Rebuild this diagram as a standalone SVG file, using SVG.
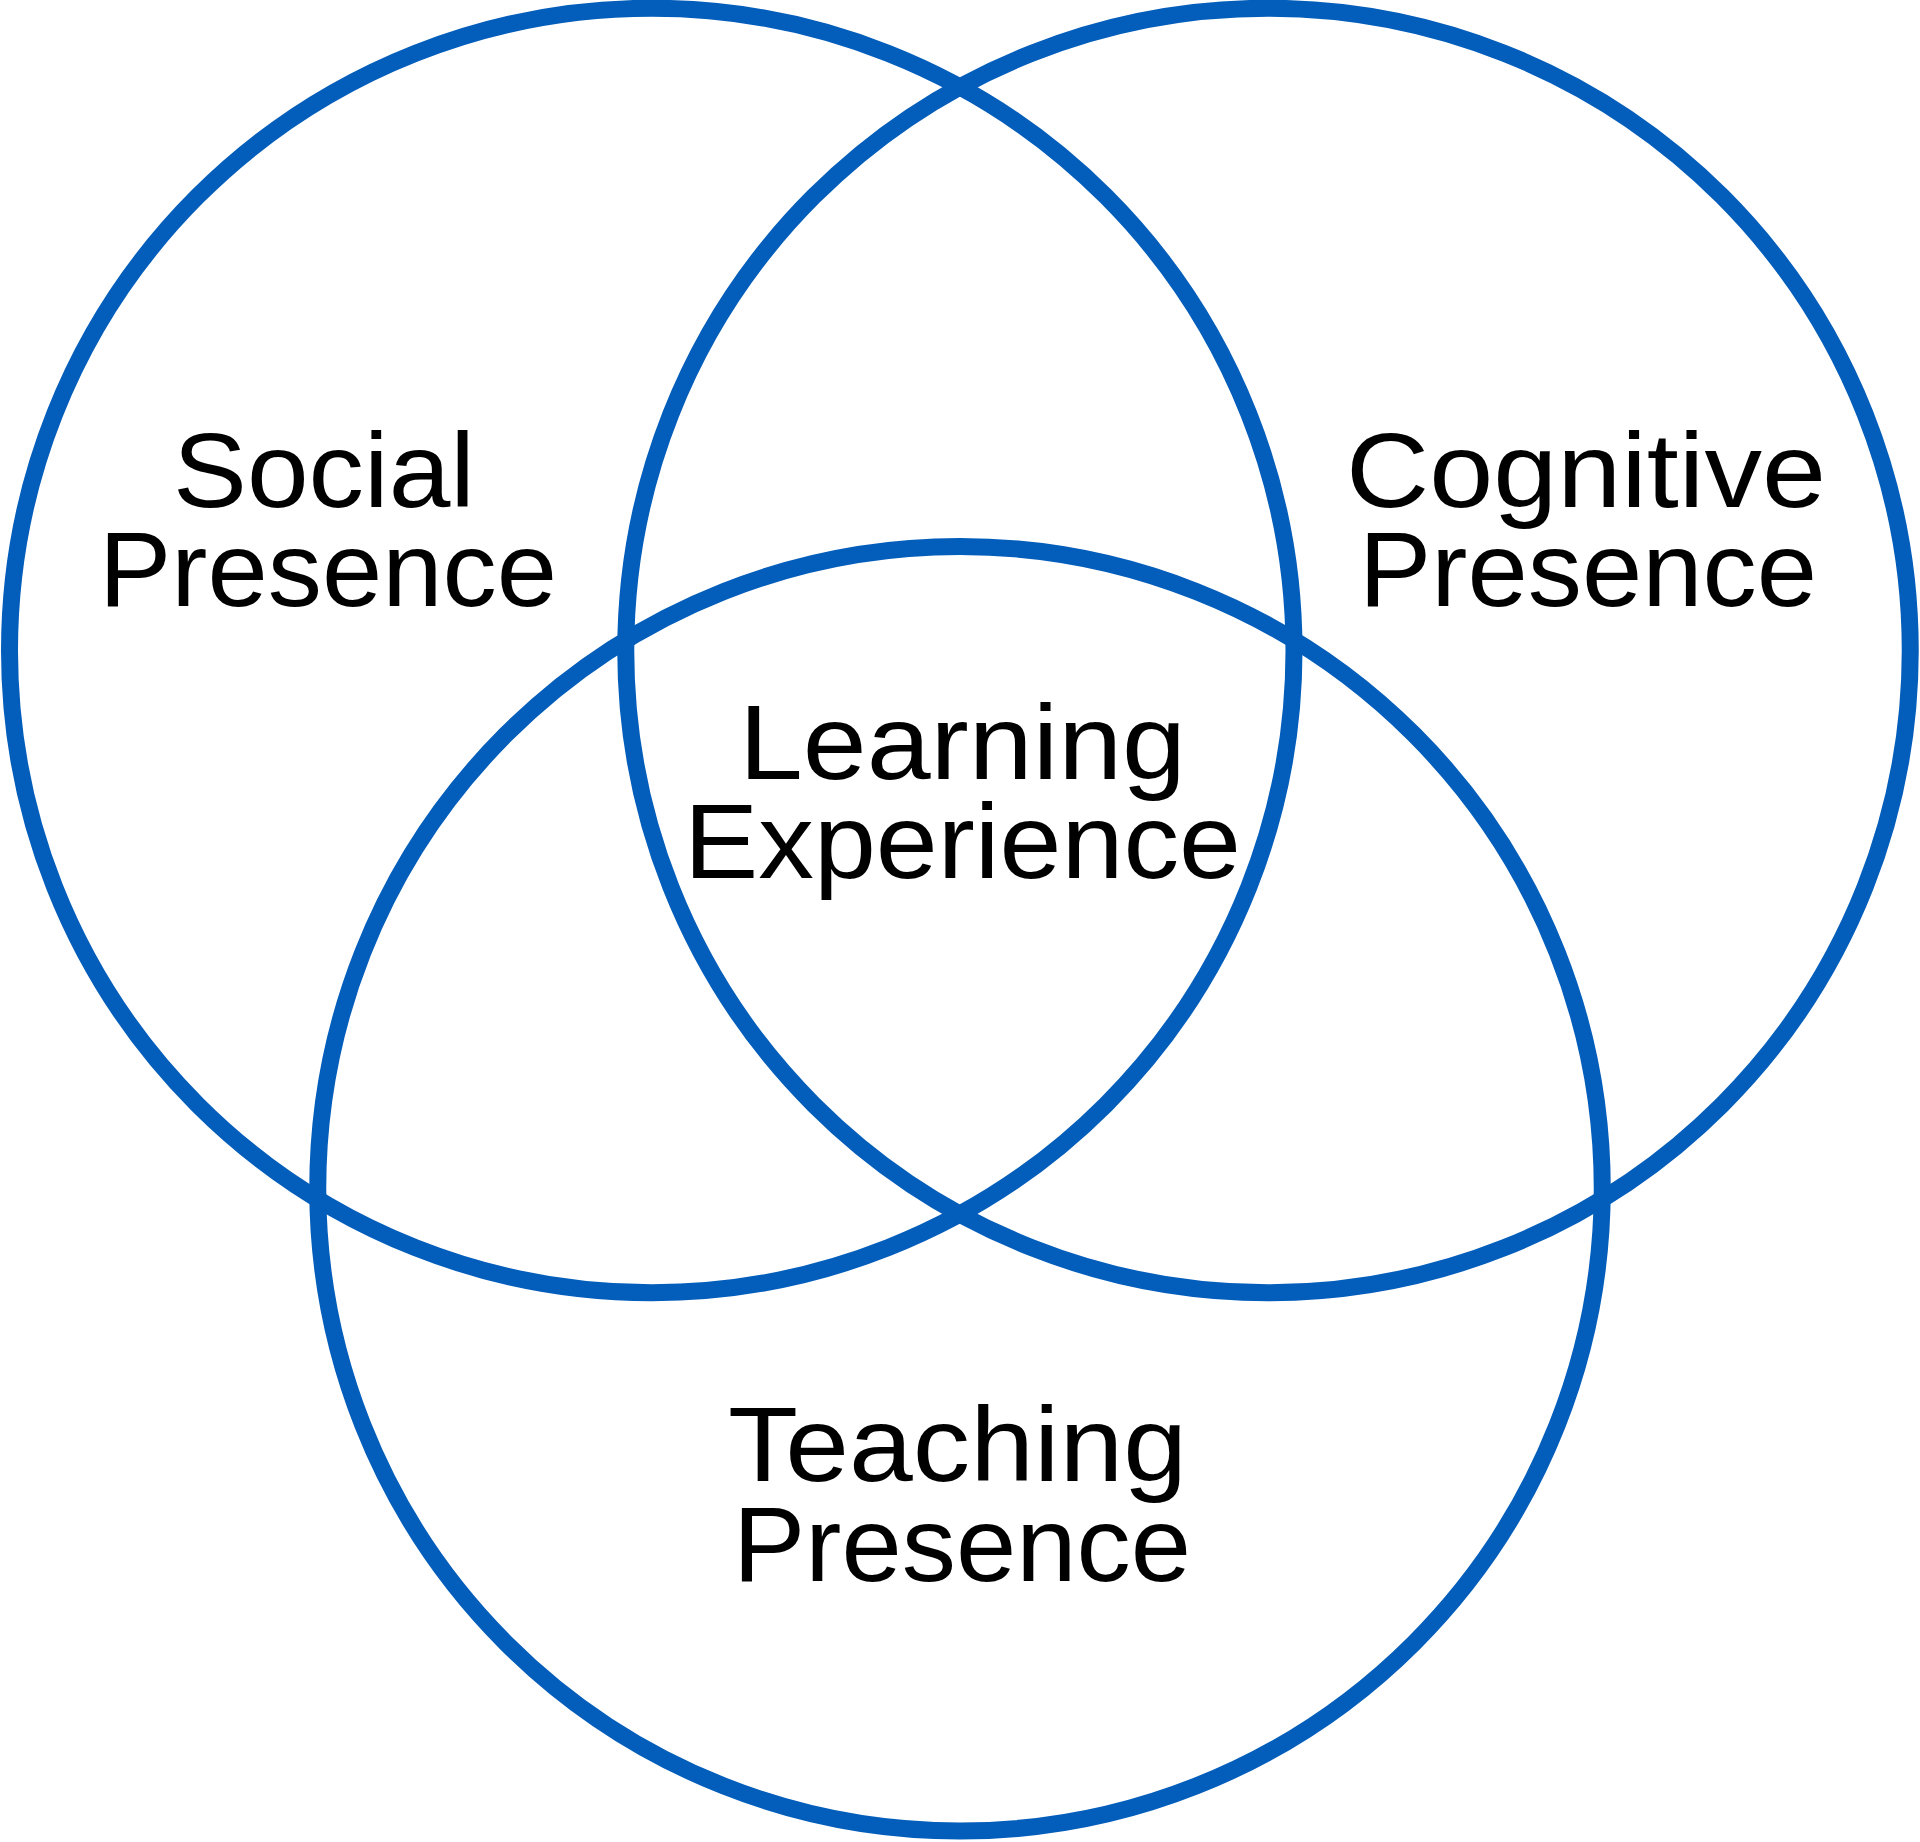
<svg xmlns="http://www.w3.org/2000/svg" width="1920" height="1842" viewBox="0 0 1920 1842">
<style>
.ring{fill:none;stroke:#035DBA;stroke-width:17}
.lbl{font-family:"Liberation Sans",Arial,sans-serif;font-size:105px;fill:#000}
</style>
<rect width="1920" height="1842" fill="#fff"/>
<g id="social">
<circle class="ring" cx="651.75" cy="650.5" r="642.25"/>
<text class="lbl" x="173" y="507" textLength="302" lengthAdjust="spacingAndGlyphs">Social</text>
<text class="lbl" x="99" y="606" textLength="458" lengthAdjust="spacingAndGlyphs">Presence</text>
</g>
<g id="cognitive">
<circle class="ring" cx="1268" cy="650.5" r="642.25"/>
<text class="lbl" x="1346" y="507" textLength="480" lengthAdjust="spacingAndGlyphs">Cognitive</text>
<text class="lbl" x="1359" y="606" textLength="458" lengthAdjust="spacingAndGlyphs">Presence</text>
</g>
<g id="teaching">
<circle class="ring" cx="960" cy="1188.75" r="642.25"/>
<text class="lbl" x="728" y="1481" textLength="459" lengthAdjust="spacingAndGlyphs">Teaching</text>
<text class="lbl" x="733" y="1581" textLength="458" lengthAdjust="spacingAndGlyphs">Presence</text>
</g>
<g id="learning">
<text class="lbl" x="739" y="779" textLength="447" lengthAdjust="spacingAndGlyphs">Learning</text>
<text class="lbl" x="684" y="878" textLength="557" lengthAdjust="spacingAndGlyphs">Experience</text>
</g>
<g id="connectors"/>
</svg>
